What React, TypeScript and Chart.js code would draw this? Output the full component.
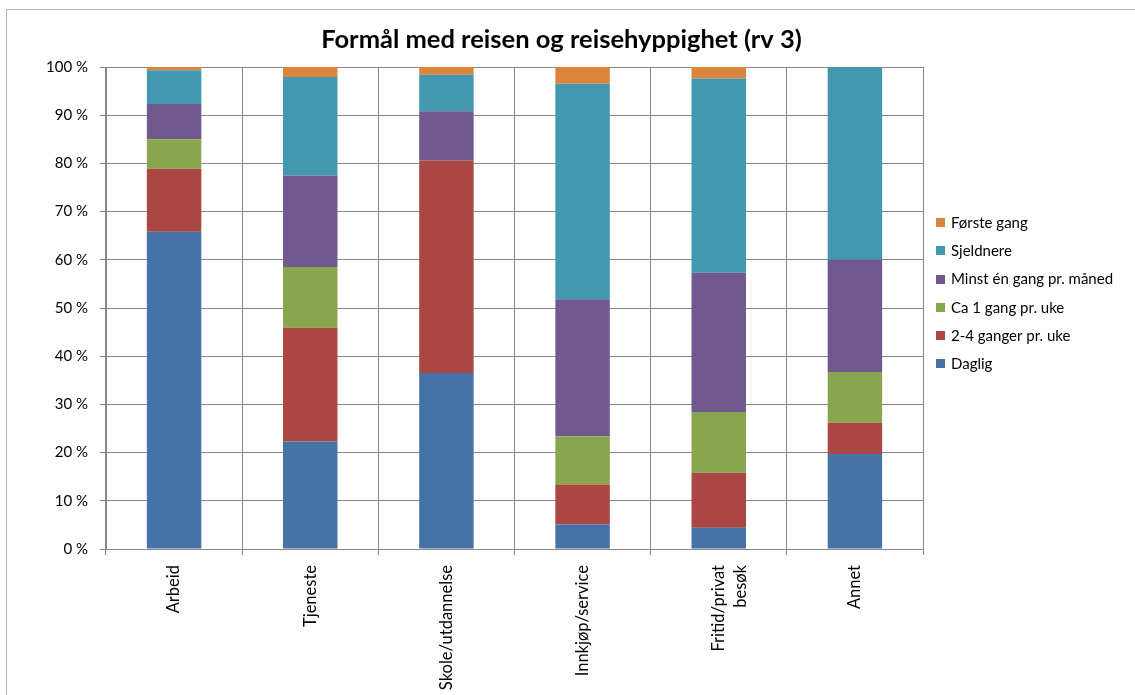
import React, { useEffect, useRef } from "react";
import { Chart, registerables } from "chart.js";

Chart.register(...registerables);

const categories: (string | string[])[] = [
  "Arbeid",
  "Tjeneste",
  "Skole/utdannelse",
  "Innkjøp/service",
  ["Fritid/privat", "besøk"],
  "Annet",
];

const daglig = [65.8, 22.3, 36.5, 5.1, 4.4, 19.7];
const toFireGanger = [13.1, 23.6, 44.1, 8.3, 11.4, 6.5];
const ca1Gang = [6.1, 12.6, 0, 10.0, 12.6, 10.5];
const minstEnGang = [7.3, 19.0, 10.2, 28.4, 28.9, 23.3];
const sjeldnere = [7.0, 20.4, 7.6, 44.7, 40.3, 40.0];
const forsteGang = [0.7, 2.1, 1.6, 3.5, 2.4, 0];

const seriesLabels = [
  "Daglig",
  "2-4 ganger pr. uke",
  "Ca 1 gang pr. uke",
  "Minst én gang pr. måned",
  "Sjeldnere",
  "Første gang",
];
const seriesColors = ["#4572A7", "#AA4643", "#89A54E", "#71588F", "#4198AF", "#DB843D"];
const titleText = "Formål med reisen og reisehyppighet (rv 3)";

const GRID = "#878787";

export default function App() {
  const ref = useRef<HTMLCanvasElement | null>(null);

  useEffect(() => {
    if (!ref.current) return;
    const values = [daglig, toFireGanger, ca1Gang, minstEnGang, sjeldnere, forsteGang];

    const framePlugin = {
      id: "frame",
      afterLayout(chart: any) {
        const t = chart.titleBlock;
        if (t) {
          t.right -= 12;
          t.width -= 12;
        }
      },
      beforeDraw(chart: any) {
        const ctx = chart.ctx;
        ctx.save();
        ctx.fillStyle = "#ffffff";
        ctx.fillRect(0, 0, chart.width, chart.height);
        ctx.strokeStyle = "#b4b4b4";
        ctx.lineWidth = 1;
        ctx.strokeRect(6.5, 9.5, chart.width + 20, chart.height + 20);
        ctx.restore();
      },
    };

    const legendPlugin = {
      id: "sideLegend",
      afterDraw(chart: any) {
        const ctx = chart.ctx;
        const ds = chart.data.datasets;
        ctx.save();
        ctx.font = "15px Lato";
        ctx.textBaseline = "middle";
        ctx.textAlign = "left";
        let k = 0;
        for (let i = ds.length - 1; i >= 0; i--) {
          const y = 222.7 + k * 28.2;
          ctx.fillStyle = ds[i].backgroundColor;
          ctx.fillRect(936, Math.round(y - 4.5), 9, 9);
          ctx.fillStyle = "#000000";
          ctx.fillText(ds[i].label, 951, y + 0.5);
          k++;
        }
        ctx.restore();
      },
    };

    const chart = new Chart(ref.current, {
      type: "bar",
      data: {
        labels: categories,
        datasets: seriesLabels.map((label, i) => ({
          label,
          data: values[i],
          backgroundColor: seriesColors[i],
          borderWidth: 0,
          barPercentage: 0.4,
          categoryPercentage: 1,
        })),
      },
      options: {
        responsive: false,
        animation: false,
        layout: { padding: { left: 0, right: 0, top: 0, bottom: 0 } },
        plugins: {
          legend: { display: false },
          tooltip: { enabled: false },
          title: {
            display: true,
            text: titleText,
            color: "#000000",
            font: { family: "Lato", size: 25.5, weight: "bold", lineHeight: 1.2 },
            padding: { top: 24, bottom: 12.4 },
          },
        },
        scales: {
          x: {
            stacked: true,
            grid: { color: GRID, tickLength: 6, offset: true },
            border: { color: GRID },
            ticks: {
              color: "#000000",
              font: { family: "Lato", size: 16.5, lineHeight: 1.35 },
              maxRotation: 90,
              minRotation: 90,
              padding: 10,
            },
            afterFit(s: any) {
              s.height = 146;
            },
          },
          y: {
            stacked: true,
            min: 0,
            max: 100,
            grid: { color: GRID, tickLength: 6 },
            border: { color: GRID },
            ticks: {
              stepSize: 10,
              color: "#000000",
              font: { family: "Lato", size: 15 },
              padding: 12,
              callback: (v: any) => `${v} %`,
            },
            afterFit(s: any) {
              s.width = 106;
            },
          },
          spacer: {
            type: "linear",
            position: "right",
            display: true,
            grid: { display: false },
            border: { display: false },
            ticks: { display: false },
            afterFit(s: any) {
              s.width = 212;
            },
          },
        },
      } as any,
      plugins: [framePlugin, legendPlugin],
    });

    return () => chart.destroy();
  }, []);

  return (
    <div style={{ position: "absolute", left: 0, top: 0, width: 1135, height: 695 }}>
      <canvas ref={ref} width={1135} height={695} style={{ display: "block" }} />
    </div>
  );
}
